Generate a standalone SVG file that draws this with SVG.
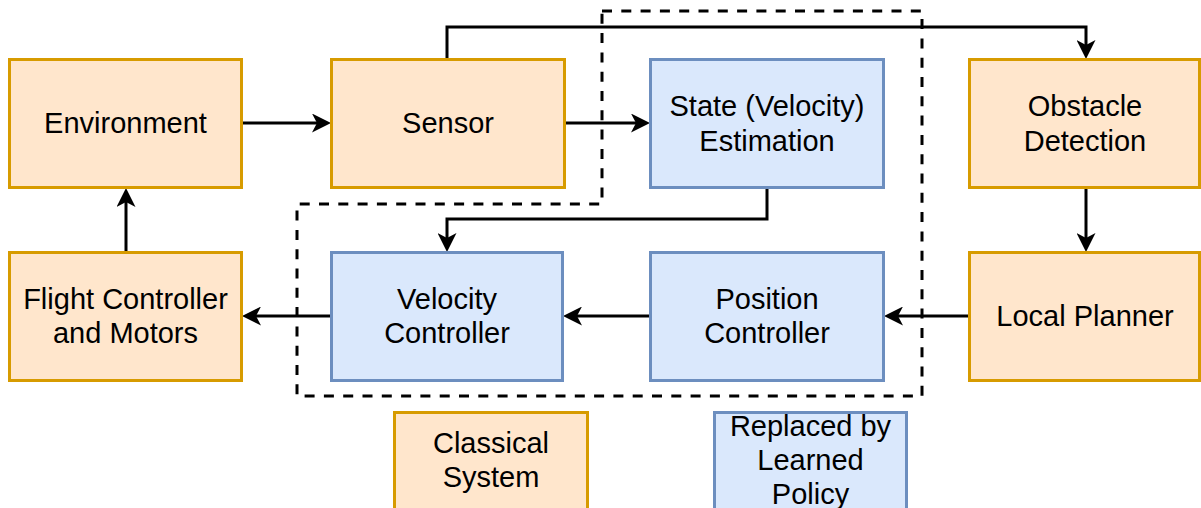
<svg xmlns="http://www.w3.org/2000/svg" width="1201" height="508" viewBox="0 0 1201 508">
  <style>
    .classic { fill: #ffe6cc; stroke: #d79b00; stroke-width: 3; }
    .learned { fill: #dae8fc; stroke: #6c8ebf; stroke-width: 3; }
    .label { font-family: "Liberation Sans", Arial, sans-serif; font-size: 29px; fill: #000; text-anchor: middle; }
    .edge { fill: none; stroke: #000; stroke-width: 3; marker-end: url(#arrow); }
    .region { fill: none; stroke: #000; stroke-width: 3; stroke-dasharray: 10 9.3; }
  </style>
  <defs>
    <marker id="arrow" viewBox="0 0 19 19" markerWidth="19" markerHeight="19" refX="5" refY="9.5" orient="auto" markerUnits="userSpaceOnUse">
      <path d="M0,0 L19,9.5 L0,19 L5,9.5 Z" fill="#000"/>
    </marker>
  </defs>
  <rect width="1201" height="508" fill="#fff"/>

  <!-- boundary of the learned part -->
  <path id="learned-region" class="region" d="M602,11 H922 V396 H297 V204 H602 Z"/>

  <!-- connectors -->
  <g id="connectors">
    <path class="edge" d="M242,123 H317"/>
    <path class="edge" d="M565,123 H636"/>
    <path class="edge" d="M447,59 V27 H1086 V45"/>
    <path class="edge" d="M767,188 V219 H447 V238"/>
    <path class="edge" d="M1086,188 V238"/>
    <path class="edge" d="M969,316 H898"/>
    <path class="edge" d="M650,316 H577"/>
    <path class="edge" d="M331,316 H256"/>
    <path class="edge" d="M126,252 V202"/>
  </g>

  <g id="environment">
    <rect class="classic" x="9.5" y="59.5" width="232" height="128"/>
    <text class="label" x="125.5" y="132.5">Environment</text>
  </g>
  <g id="sensor">
    <rect class="classic" x="331.5" y="59.5" width="233" height="128"/>
    <text class="label" x="448" y="132.5">Sensor</text>
  </g>
  <g id="state-estimation">
    <rect class="learned" x="650.5" y="59.5" width="233" height="128"/>
    <text class="label" x="767" y="116">State (Velocity)</text>
    <text class="label" x="767" y="150.5">Estimation</text>
  </g>
  <g id="obstacle-detection">
    <rect class="classic" x="969.5" y="59.5" width="230" height="128"/>
    <text class="label" x="1085" y="116">Obstacle</text>
    <text class="label" x="1085" y="150.5">Detection</text>
  </g>
  <g id="flight-controller">
    <rect class="classic" x="9.5" y="252.5" width="232" height="128"/>
    <text class="label" x="125.5" y="309">Flight Controller</text>
    <text class="label" x="125.5" y="342.5">and Motors</text>
  </g>
  <g id="velocity-controller">
    <rect class="learned" x="331.5" y="252.5" width="231" height="128"/>
    <text class="label" x="447" y="309">Velocity</text>
    <text class="label" x="447" y="342.5">Controller</text>
  </g>
  <g id="position-controller">
    <rect class="learned" x="650.5" y="252.5" width="233" height="128"/>
    <text class="label" x="767" y="309">Position</text>
    <text class="label" x="767" y="342.5">Controller</text>
  </g>
  <g id="local-planner">
    <rect class="classic" x="969.5" y="252.5" width="230" height="128"/>
    <text class="label" x="1085" y="325.5">Local Planner</text>
  </g>

  <!-- legend -->
  <g id="legend-classical">
    <rect class="classic" x="394.5" y="412.5" width="193" height="128"/>
    <text class="label" x="491" y="453">Classical</text>
    <text class="label" x="491" y="487">System</text>
  </g>
  <g id="legend-learned">
    <rect class="learned" x="714.5" y="412.5" width="192" height="128"/>
    <text class="label" x="810.5" y="435.5">Replaced by</text>
    <text class="label" x="810.5" y="469.5">Learned</text>
    <text class="label" x="810.5" y="503.5">Policy</text>
  </g>
</svg>
